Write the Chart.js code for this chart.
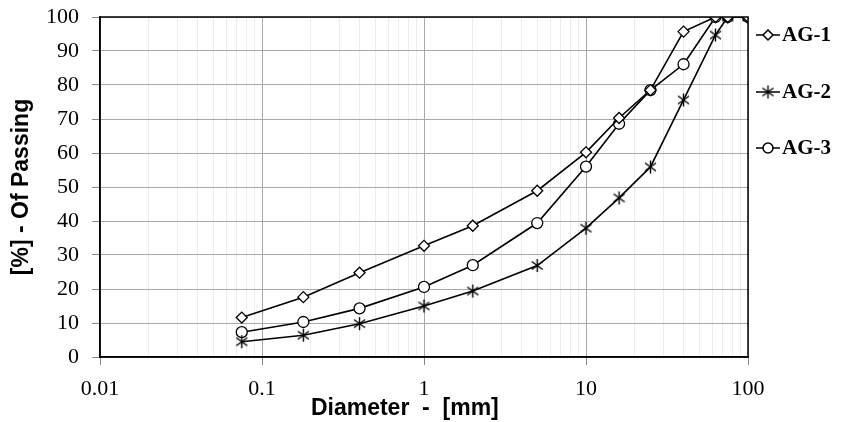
<!DOCTYPE html>
<html>
<head>
<meta charset="utf-8">
<script src="https://cdn.jsdelivr.net/npm/chart.js@4.4.1/dist/chart.umd.min.js"></script>
<style>
  html, body { margin: 0; padding: 0; background: #fff; }
  #wrap { width: 841px; height: 422px; }
</style>
</head>
<body>
<div id="wrap"><canvas id="grading" width="841" height="422"></canvas></div>
<script>
// sieve sizes (mm)
var diameters = [0.075, 0.18, 0.4, 1, 2, 5, 10, 16, 25, 40, 63, 75, 100];
var seriesNames = ['AG-1', 'AG-2', 'AG-3'];
var ag1 = [11.6, 17.6, 24.8, 32.7, 38.6, 48.9, 60.2, 70.3, 78.5, 95.7, 100, 100, 100];
var ag2 = [4.5, 6.4, 9.8, 15.0, 19.4, 26.9, 37.9, 46.8, 55.9, 75.6, 94.7, 100, 100];
var ag3 = [7.3, 10.3, 14.3, 20.6, 27.0, 39.4, 56.0, 68.6, 78.5, 86.1, 100, 100, 100];
var xTicks = [0.01, 0.1, 1, 10, 100];
var yTicks = [0, 10, 20, 30, 40, 50, 60, 70, 80, 90, 100];

function pts(vals) {
    return diameters.map(function(d, i) { return { x: d, y: vals[i] }; });
}

// asterisk marker like the spreadsheet one (vertical bar + X)
function makeStar() {
    var c = document.createElement('canvas');
    c.width = 15; c.height = 15;
    var g = c.getContext('2d');
    g.strokeStyle = '#000';
    g.lineWidth = 1.4;
    g.beginPath();
    g.moveTo(7.5, 1); g.lineTo(7.5, 14);
    g.moveTo(2, 3.5); g.lineTo(13, 11.5);
    g.moveTo(13, 3.5); g.lineTo(2, 11.5);
    g.stroke();
    return c;
}
var starImg = makeStar();

function isDecade(v) {
    var l = Math.log10(v);
    return Math.abs(l - Math.round(l)) < 1e-6;
}

var frame = {
    id: 'frame',
    afterDraw: function(chart) {
        var a = chart.chartArea, c = chart.ctx;
        c.save();
        c.strokeStyle = '#000';
        c.lineWidth = 1.5;
        c.strokeRect(a.left, a.top, a.right - a.left, a.bottom - a.top);
        // legend: line + marker + label
        var ys = [35, 92, 148];
        c.font = 'bold 21px "Liberation Serif", "Times New Roman", serif';
        c.textBaseline = 'middle';
        chart.data.datasets.forEach(function(ds, i) {
            var y = ys[i];
            c.strokeStyle = '#000';
            c.lineWidth = 1.5;
            c.beginPath();
            c.moveTo(756, y); c.lineTo(780, y);
            c.stroke();
            if (ds.pointStyle === 'rectRot') {
                c.fillStyle = '#fff';
                c.beginPath();
                c.moveTo(768, y - 5); c.lineTo(773, y); c.lineTo(768, y + 5); c.lineTo(763, y);
                c.closePath(); c.fill(); c.stroke();
            } else if (ds.pointStyle === 'circle') {
                c.fillStyle = '#fff';
                c.beginPath();
                c.arc(768, y, 5, 0, Math.PI * 2);
                c.fill(); c.stroke();
            } else {
                c.drawImage(starImg, 768 - 7.5, y - 7.5);
            }
            c.fillStyle = '#000';
            c.fillText(ds.label, 782, y + 1);
        });
        c.restore();
    }
};

var common = {
    borderColor: '#000',
    borderWidth: 1.6,
    pointBorderColor: '#000',
    pointBackgroundColor: '#fff',
    pointBorderWidth: 1.3,
    tension: 0,
    fill: false
};

new Chart(document.getElementById('grading').getContext('2d'), {
    type: 'line',
    data: {
        datasets: [
            Object.assign({ label: seriesNames[0], data: pts(ag1), pointStyle: 'rectRot', pointRadius: 5.5 }, common),
            Object.assign({ label: seriesNames[1], data: pts(ag2), pointStyle: starImg, pointRadius: 7 }, common),
            Object.assign({ label: seriesNames[2], data: pts(ag3), pointStyle: 'circle', pointRadius: 5.5 }, common)
        ]
    },
    plugins: [frame],
    options: {
        responsive: false,
        animation: false,
        layout: { padding: { top: 17, right: 93, left: 0, bottom: 0 } },
        plugins: { legend: { display: false }, tooltip: { enabled: false } },
        scales: {
            x: {
                type: 'logarithmic',
                min: 0.01,
                max: 100,
                afterFit: function(s) { s.height = 65; },
                afterBuildTicks: function(s) {
                    // keep 1..9 per decade for the grid
                    var t = [];
                    for (var e = -2; e <= 1; e++) {
                        for (var k = 1; k <= 9; k++) t.push({ value: Number((k * Math.pow(10, e)).toPrecision(3)) });
                    }
                    t.push({ value: 100 });
                    s.ticks = t;
                },
                ticks: {
                    autoSkip: false,
                    maxRotation: 0,
                    padding: 11,
                    color: '#000',
                    font: { family: '"Liberation Serif", "Times New Roman", serif', size: 22 },
                    callback: function(v) {
                        return xTicks.indexOf(v) >= 0 ? String(v) : '';
                    }
                },
                grid: {
                    color: function(ctx) { return ctx.tick && isDecade(ctx.tick.value) ? '#a8a8a8' : '#ececec'; },
                    tickColor: function(ctx) { return ctx.tick && isDecade(ctx.tick.value) ? '#888' : 'rgba(0,0,0,0)'; },
                    tickLength: 8,
                    lineWidth: 1
                },
                border: { color: '#000', width: 1.5 },
                title: {
                    display: true,
                    text: 'Diameter  -  [mm]      ',
                    color: '#000',
                    font: { family: '"Liberation Sans", Arial, sans-serif', size: 23, weight: 'bold' },
                    padding: { top: 0, bottom: 0 }
                }
            },
            y: {
                min: 0,
                max: 100,
                afterFit: function(s) { s.width = 100; s.paddingTop = 0; s.paddingBottom = 0; },
                ticks: {
                    stepSize: 5,
                    padding: 13,
                    color: '#000',
                    font: { family: '"Liberation Serif", "Times New Roman", serif', size: 22 },
                    callback: function(v) { return yTicks.indexOf(v) >= 0 ? String(v) : ''; }
                },
                grid: {
                    color: function(ctx) { return ctx.tick && ctx.tick.value % 10 === 0 ? '#a8a8a8' : '#ececec'; },
                    tickColor: function(ctx) { return ctx.tick && ctx.tick.value % 10 === 0 ? '#888' : 'rgba(0,0,0,0)'; },
                    tickLength: 8,
                    lineWidth: 1
                },
                border: { color: '#000', width: 1.5 },
                title: {
                    display: true,
                    text: '[%] - Of Passing',
                    color: '#000',
                    font: { family: '"Liberation Sans", Arial, sans-serif', size: 23, weight: 'bold' },
                    padding: { top: 8, bottom: 0 }
                }
            }
        }
    }
});
</script>
</body>
</html>
